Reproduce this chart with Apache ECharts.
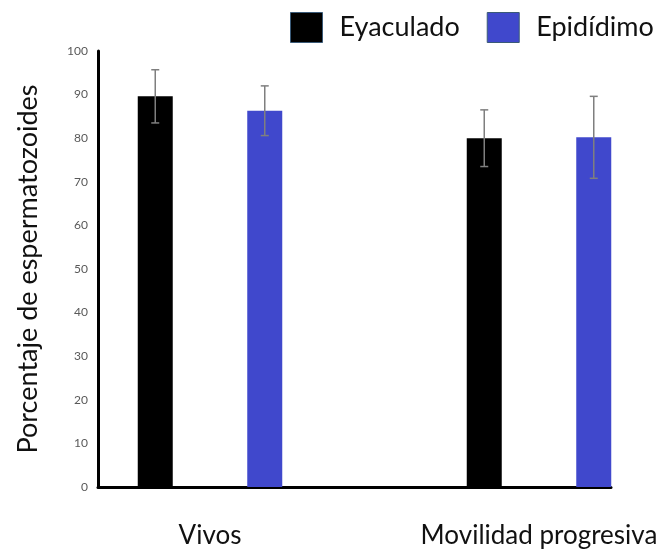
<!DOCTYPE html>
<html>
<head>
<meta charset="utf-8">
<script src="https://cdn.jsdelivr.net/npm/echarts@6/dist/echarts.min.js"></script>
<style>
  html, body { margin: 0; padding: 0; background: #fff; }
  #chart { width: 670px; height: 552px; }
</style>
</head>
<body>
<div id="chart"></div>
<script>
// Porcentaje de espermatozoides: vivos y con movilidad progresiva
const categories = ['Vivos', 'Movilidad progresiva'];
const seriesNames = ['Eyaculado', 'Epidídimo'];
const eyaculado = [89.6, 80.0];
const epididimo = [86.3, 80.2];
const eyaculadoErr = [6.1, 6.5];
const epididimoErr = [5.7, 9.4];
const yTicks = [0, 100, 10]; // min, max, interval

const FONT = 'Lato, "Open Sans", sans-serif';
const BLACK = '#000000';
const BLUE = '#4048CC';
const BAR_W = 35;
const BAR_GAP_PX = 74.5;
const OFFSET = (BAR_W + BAR_GAP_PX) / 2;

const chart = echarts.init(document.getElementById('chart'));

function errorSeries(name, values, errs, dir) {
  return {
    type: 'custom',
    name: name + ' error',
    xAxisIndex: 0,
    yAxisIndex: 0,
    silent: true,
    clip: false,
    z: 10,
    data: values.map((v, i) => [i, v, errs[i]]),
    renderItem: function (params, api) {
      const i = api.value(0);
      const v = api.value(1);
      const e = api.value(2);
      const top = api.coord([i, v + e]);
      const bot = api.coord([i, v - e]);
      const x = top[0] + dir * OFFSET;
      const cap = 4;
      const style = { stroke: '#7f7f7f', lineWidth: 1.5 };
      return {
        type: 'group',
        children: [
          { type: 'line', shape: { x1: x, y1: top[1], x2: x, y2: bot[1] }, style: style },
          { type: 'line', shape: { x1: x - cap, y1: top[1], x2: x + cap, y2: top[1] }, style: style },
          { type: 'line', shape: { x1: x - cap, y1: bot[1], x2: x + cap, y2: bot[1] }, style: style }
        ]
      };
    }
  };
}

chart.setOption({
  animation: false,
  backgroundColor: '#ffffff',
  legend: {
    left: 285,
    top: 7,
    icon: 'rect',
    itemWidth: 32,
    itemHeight: 30,
    itemGap: 27,
    data: seriesNames.map(n => ({ name: n, itemStyle: { borderColor: '#3a5a78', borderWidth: 1 } })),
    textStyle: { fontFamily: FONT, fontSize: 27, color: '#111', padding: [0, 0, 0, 12] }
  },
  grid: [
    // bars
    { left: 45.5, top: 51, width: 658, bottom: 65, outerBoundsMode: 'none', containLabel: false },
    // visible axes
    { left: 98, top: 51, right: 59, bottom: 65, outerBoundsMode: 'none', containLabel: false }
  ],
  xAxis: [
    {
      gridIndex: 0,
      type: 'category',
      data: categories,
      axisLine: { show: false },
      axisTick: { show: false },
      axisLabel: { fontFamily: FONT, fontSize: 26, color: '#111', margin: 36 }
    },
    {
      gridIndex: 1,
      type: 'value',
      min: 0, max: 1,
      axisLine: { show: true, lineStyle: { color: '#000', width: 3 } },
      axisTick: { show: false },
      axisLabel: { show: false },
      splitLine: { show: false }
    }
  ],
  yAxis: [
    {
      gridIndex: 0,
      type: 'value',
      min: yTicks[0], max: yTicks[1], interval: yTicks[2],
      show: false
    },
    {
      gridIndex: 1,
      type: 'value',
      min: yTicks[0], max: yTicks[1], interval: yTicks[2],
      name: 'Porcentaje de espermatozoides',
      nameLocation: 'middle',
      nameGap: 56,
      nameTextStyle: { fontFamily: FONT, fontSize: 27, color: '#111' },
      axisLine: { show: true, lineStyle: { color: '#000', width: 3 } },
      axisTick: { show: false },
      axisLabel: { fontFamily: FONT, fontSize: 12, color: '#595959', margin: 10 },
      splitLine: { show: false }
    }
  ],
  series: [
    {
      name: seriesNames[0],
      type: 'bar',
      xAxisIndex: 0, yAxisIndex: 0,
      data: eyaculado,
      barWidth: BAR_W,
      barGap: (BAR_GAP_PX / BAR_W * 100) + '%',
      itemStyle: { color: BLACK }
    },
    {
      name: seriesNames[1],
      type: 'bar',
      xAxisIndex: 0, yAxisIndex: 0,
      data: epididimo,
      barWidth: BAR_W,
      barGap: (BAR_GAP_PX / BAR_W * 100) + '%',
      itemStyle: { color: BLUE }
    },
    errorSeries(seriesNames[0], eyaculado, eyaculadoErr, -1),
    errorSeries(seriesNames[1], epididimo, epididimoErr, 1)
  ]
});
</script>
</body>
</html>
